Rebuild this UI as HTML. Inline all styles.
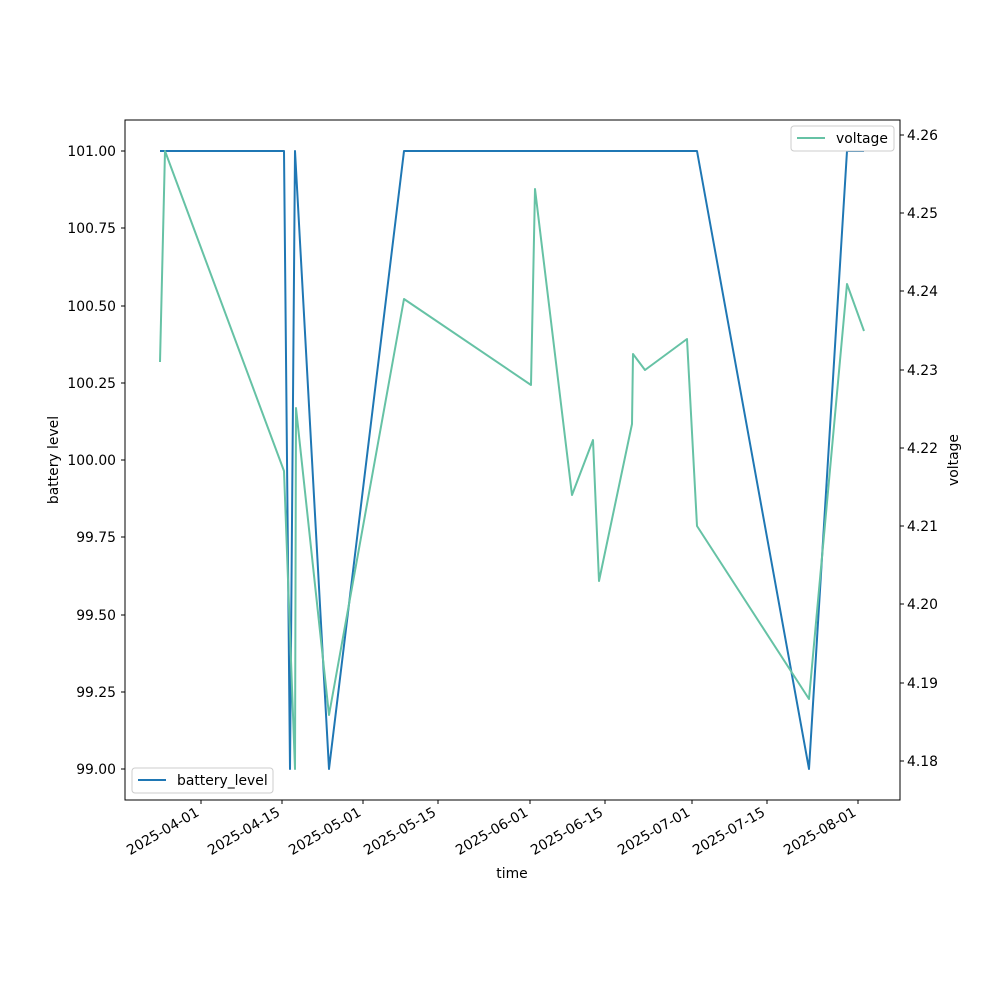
<!DOCTYPE html>
<html><head><meta charset="utf-8"><style>body{margin:0;background:#fff}svg{display:block}text{font-family:"DejaVu Sans","Liberation Sans",sans-serif;font-size:13.9px;fill:#000}</style></head><body>
<svg width="1000" height="1000" xmlns="http://www.w3.org/2000/svg">
<rect width="1000" height="1000" fill="#fff"/>
<g stroke="#000" stroke-width="1">
<line x1="125" y1="151" x2="121" y2="151"/><line x1="125" y1="228" x2="121" y2="228"/><line x1="125" y1="306" x2="121" y2="306"/><line x1="125" y1="383" x2="121" y2="383"/><line x1="125" y1="460" x2="121" y2="460"/><line x1="125" y1="537" x2="121" y2="537"/><line x1="125" y1="615" x2="121" y2="615"/><line x1="125" y1="692" x2="121" y2="692"/><line x1="125" y1="769" x2="121" y2="769"/>
<line x1="900" y1="135" x2="904" y2="135"/><line x1="900" y1="213" x2="904" y2="213"/><line x1="900" y1="291" x2="904" y2="291"/><line x1="900" y1="370" x2="904" y2="370"/><line x1="900" y1="448" x2="904" y2="448"/><line x1="900" y1="526" x2="904" y2="526"/><line x1="900" y1="604" x2="904" y2="604"/><line x1="900" y1="683" x2="904" y2="683"/><line x1="900" y1="761" x2="904" y2="761"/>
<line x1="201" y1="800" x2="201" y2="804"/><line x1="282" y1="800" x2="282" y2="804"/><line x1="363" y1="800" x2="363" y2="804"/><line x1="438" y1="800" x2="438" y2="804"/><line x1="530" y1="800" x2="530" y2="804"/><line x1="605" y1="800" x2="605" y2="804"/><line x1="692" y1="800" x2="692" y2="804"/><line x1="767" y1="800" x2="767" y2="804"/><line x1="858" y1="800" x2="858" y2="804"/>
</g>
<g text-anchor="end">
<text x="116" y="156">101.00</text><text x="116" y="233">100.75</text><text x="116" y="311">100.50</text><text x="116" y="388">100.25</text><text x="116" y="465">100.00</text><text x="116" y="542">99.75</text><text x="116" y="620">99.50</text><text x="116" y="697">99.25</text><text x="116" y="774">99.00</text>
</g>
<g>
<text x="907" y="140">4.26</text><text x="907" y="218">4.25</text><text x="907" y="296">4.24</text><text x="907" y="375">4.23</text><text x="907" y="453">4.22</text><text x="907" y="531">4.21</text><text x="907" y="609">4.20</text><text x="907" y="688">4.19</text><text x="907" y="766">4.18</text>
</g>
<g text-anchor="end">
<text transform="translate(200,815) rotate(-30)">2025-04-01</text>
<text transform="translate(281,815) rotate(-30)">2025-04-15</text>
<text transform="translate(362,815) rotate(-30)">2025-05-01</text>
<text transform="translate(437,815) rotate(-30)">2025-05-15</text>
<text transform="translate(529,815) rotate(-30)">2025-06-01</text>
<text transform="translate(604,815) rotate(-30)">2025-06-15</text>
<text transform="translate(691,815) rotate(-30)">2025-07-01</text>
<text transform="translate(766,815) rotate(-30)">2025-07-15</text>
<text transform="translate(857,815) rotate(-30)">2025-08-01</text>
</g>
<text x="512" y="878" text-anchor="middle">time</text>
<text transform="translate(58,460) rotate(-90)" text-anchor="middle">battery level</text>
<text transform="translate(958,460) rotate(-90)" text-anchor="middle">voltage</text>
<polyline fill="none" stroke="#1f77b4" stroke-width="2" stroke-linejoin="round" points="160,151 284,151 290,769 295,151 329,769 404,151 697,151 809,769 847,151 864,151"/>
<polyline fill="none" stroke="#66c2a5" stroke-width="2" stroke-linejoin="round" points="160,362 165,151 284,471 295,769 296,408 329,715 404,299 531,385 535,189 572,495 593,440 599,581 632,424 633,354 645,370 687,339 697,526 809,699 847,284 864,331"/>
<rect x="125" y="120" width="775" height="680" fill="none" stroke="#000" stroke-width="1"/>
<rect x="132" y="768" width="141" height="25" rx="3" fill="#fff" stroke="#ccc"/>
<line x1="138" y1="780" x2="166" y2="780" stroke="#1f77b4" stroke-width="2"/>
<text x="177" y="785">battery_level</text>
<rect x="791" y="126" width="103" height="25" rx="3" fill="#fff" stroke="#ccc"/>
<line x1="797" y1="138" x2="825" y2="138" stroke="#66c2a5" stroke-width="2"/>
<text x="836" y="143">voltage</text>
</svg>
</body></html>
